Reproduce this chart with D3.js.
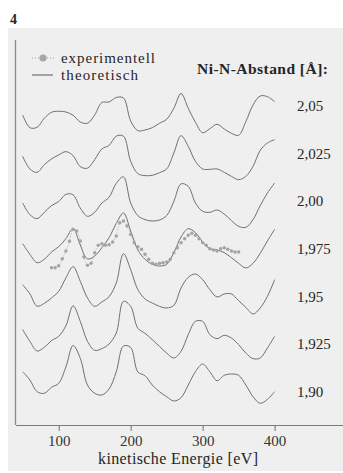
<!DOCTYPE html>
<html><head><meta charset="utf-8">
<script src="https://cdn.jsdelivr.net/npm/d3@7"></script>
<style>
html,body{margin:0;padding:0;background:#fff;}
svg{display:block;font-family:"Liberation Serif","DejaVu Serif",serif;}
svg text{font-family:"Liberation Serif","DejaVu Serif",serif;}
</style>
</head><body>
<svg id="chart" width="343" height="473"></svg>
<script>
// ---------- DATA ----------
const energies = [50,60,70,80,90,100,110,120,130,140,150,160,170,180,190,200,210,220,230,240,250,260,270,280,290,300,310,320,330,340,350,360,370,380,390,400];
const distanceLabels = ["2,05","2,025","2,00","1,975","1,95","1,925","1,90"];
// theoretical spectra (a.u., relative to each curve's own baseline)
const theo205  = [-9,-21.7,-21.3,-12.3,-6.3,-5.3,-6,-9.3,-16,-17.3,-9,3.5,4,8.5,8,-15,-24.7,-24,-21.7,-17.3,-13.3,-2.3,12.5,-2.3,-16.3,-26.7,-22.7,-18.3,-23,-27.3,-29.3,-15.7,1,10,9.3,4.3];
const theo2025 = [-2.7,-15.3,-18.7,-11,-5.3,-1.3,2,-2,-13,-14.5,-6,4.7,8.3,17.5,17.5,-7.7,-20,-22,-21.7,-19,-15.3,0.7,18,7.3,-7.7,-15.3,-15.7,-15.3,-18.7,-22.7,-26,-22.7,-12.7,3.3,10.7,14];
const theo200  = [-1.7,-13.3,-17.3,-11,-4.3,-0.3,7,6.5,-6.7,-15,-11,-1.7,4,18,24.5,-1.7,-14.3,-18.3,-19.7,-18.7,-14.3,0,17.5,15,-1.7,-10,-11,-8.7,-12.7,-19.3,-25,-26,-18.3,-4.3,8.3,18.3];
const theo1975 = [5.3,-5.3,-13.7,-10.3,-3,2.3,10.3,20.5,4,-10,-7,1.3,11.3,25.5,36,18,-1,-10.3,-15.3,-17,-15.3,-3.7,12,20.3,16.3,7,0.3,-1,-3.7,-8.7,-14.3,-19,-14.3,-4.3,8,19.7];
const theo195  = [12,2.7,-9.5,-6.7,-1.3,5.3,18.7,30,15.3,-1.3,-9.7,-5.3,0,13.7,43,27,7,-2.3,-6.3,-9.7,-11.3,-8.7,8.7,19.3,22.7,17,7,-0.3,2.7,2.7,-4,-10.7,-17.3,-11.3,0.3,17];
const theo1925 = [14.7,3,-6.7,-3,3.7,8,18.5,38.5,23,3,-6,-4.3,0.3,11.3,43,38,16,11,4.7,-2,-8.7,-13.7,-7,9.7,23,23,9.7,5.7,9,6.3,-0.3,-8.7,-14.3,-13.7,-3.7,8];
const theo190  = [20.3,12,0.3,-1.3,4.7,8.7,25,46.5,33.7,7,-1.3,-3,3,20.3,46,44.5,20,16.3,7,0.3,-4.7,-9,-5.7,7,20.3,28,20.3,11.3,16.7,18,16.7,7,-4.7,-11.3,-7.3,0.3];
const theoretical = [theo205, theo2025, theo200, theo1975, theo195, theo1925, theo190];
// experimental spectrum (shown with the 1,975 curve)
const expEnergies = [90,95,100,105,110,115,120,125,130,135,140,145,150,155,160,165,170,175,180,185,190,195,200,205,210,215,220,225,230,235,240,245,250,255,260,265,270,275,280,285,290,295,300,305,310,315,320,325,330,335,340,345,350];
const exp1975 = [-18.7,-18.7,-16.7,-9.7,-2,7.7,19.7,18,8,-8,-16.3,-14.3,-3.7,3.7,5.3,3.7,4.3,7,13,26.3,28,23,14.7,6.3,2.3,-0.3,-5.3,-10.3,-14.3,-15.3,-14.3,-13.7,-13,-10.3,-3.7,1.3,6.3,10.3,13.7,15.7,13.7,10.3,6.3,3.7,0.3,-1,-2,0.3,1.3,-0.3,-2,-3,-3];
const expIndex = 3;
const xTicks = [100,200,300,400];

// ---------- DRAW ----------
const svg = d3.select("#chart");
const ink = "#262626";
const lineCol = "#6f6f6f";

svg.append("rect").attr("x",8).attr("y",28).attr("width",335).attr("height",443).attr("fill","#efefef");

const x = d3.scaleLinear().domain([40,495]).range([15.5,343]);
const y = d3.scaleLinear().domain([0,380]).range([425,45]);
const step = 47.67, base = 33;
const off = i => base + step*(theoretical.length-1-i);

// widen text to the reference width by letter spacing (keeps height)
function spaceText(sel, target){
  const w = sel.node().getComputedTextLength();
  const n = sel.text().length;
  if (n > 1) sel.attr("letter-spacing", ((target - w)/(n-1)).toFixed(2));
}

// figure number
svg.append("text").attr("x",10).attr("y",24).attr("font-size",14).attr("font-weight","bold").attr("fill",ink).text("4");

// axes
svg.append("line").attr("x1",15.5).attr("x2",15.5).attr("y1",40).attr("y2",425).attr("stroke","#8a8a8a").attr("stroke-width",1.3);
const gx = svg.append("g").attr("transform","translate(0,425)")
  .call(d3.axisBottom(x).tickValues(xTicks).tickSize(6).tickSizeOuter(0).tickFormat(d3.format("d")));
gx.attr("font-family",null).attr("font-size",null);
gx.select(".domain").attr("stroke","#7a7a7a").attr("stroke-width",1.2);
gx.selectAll(".tick line").attr("stroke","#7a7a7a").attr("stroke-width",1.1);
gx.selectAll(".tick text").attr("font-size",15).attr("fill","#333").attr("y",10).attr("dy","0.71em");
const title = svg.append("text").attr("x",98).attr("y",463.5).attr("font-size",16).attr("fill",ink).text("kinetische Energie [eV]");
spaceText(title,160);

// theoretical curves
const line = d3.line().curve(d3.curveCatmullRom.alpha(0.5));
theoretical.forEach((vals,i)=>{
  const o = off(i);
  svg.append("path")
    .attr("d", line(energies.map((e,k)=>[x(e), y(o+vals[k])])))
    .attr("fill","none").attr("stroke",lineCol).attr("stroke-width",1);
  svg.append("text").attr("x",297).attr("y",y(o)+5).attr("font-size",15).attr("fill",ink).text(distanceLabels[i]);
});

// experimental
const eo = off(expIndex);
const expPts = expEnergies.map((e,k)=>[x(e), y(eo+exp1975[k])]);
svg.append("path").attr("d", line(expPts)).attr("fill","none").attr("stroke","#a9a9a9").attr("stroke-width",0.9).attr("stroke-dasharray","1,1.6");
svg.append("g").selectAll("circle").data(expPts).join("circle")
  .attr("cx",d=>d[0]).attr("cy",d=>d[1]).attr("r",1.7).attr("fill","#a3a3a3");

// header / legend
const hdr = svg.append("text").attr("x",197).attr("y",73.5).attr("font-size",15.5).attr("font-weight","bold").attr("fill",ink).text("Ni-N-Abstand [Å]:");
spaceText(hdr,131);
svg.append("line").attr("x1",32).attr("x2",54).attr("y1",58).attr("y2",58).attr("stroke","#a0a0a0").attr("stroke-width",1).attr("stroke-dasharray","1,2");
svg.append("circle").attr("cx",43).attr("cy",58).attr("r",3.6).attr("fill","#a6a6a6");
const l1 = svg.append("text").attr("x",61).attr("y",62.5).attr("font-size",15).attr("fill",ink).text("experimentell");
spaceText(l1,94);
svg.append("line").attr("x1",32).attr("x2",53).attr("y1",75).attr("y2",75).attr("stroke",lineCol).attr("stroke-width",1.2);
const l2 = svg.append("text").attr("x",61).attr("y",80).attr("font-size",15).attr("fill",ink).text("theoretisch");
spaceText(l2,77);
</script>
</body></html>
